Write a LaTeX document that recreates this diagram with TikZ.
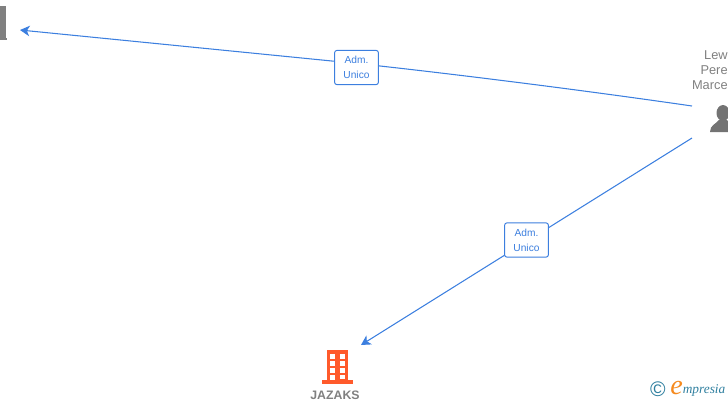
\documentclass[tikz,border=0pt]{standalone}
\usepackage{fontspec}
\setmainfont{Liberation Sans}
\newfontfamily\logofont{Liberation Serif}
\usetikzlibrary{arrows.meta}
\definecolor{linkblue}{HTML}{3C7FDF}
\definecolor{labelgray}{HTML}{808080}
\definecolor{iconorange}{HTML}{FF5A2B}
\definecolor{logoteal}{HTML}{2F7F9F}
\definecolor{logoorange}{HTML}{F58A1F}
\begin{document}
\begin{tikzpicture}
	[
	x = {(0.020000cm, 0.000000cm)},
	y = {(0.000000cm, -0.020000cm)},
	link/.style = {color = linkblue, line width = 0.6pt},
	linkarrow/.style = {link, -{Stealth[length = 5.5pt, width = 6pt, inset = 1.6pt]}},
	rolebox/.style = {draw = linkblue, fill = white, rounded corners = 1.5pt, line width = 0.55pt, minimum width = 25pt, minimum height = 19.6pt, inner sep = 0pt, align = center, text = linkblue, font = \fontsize{5.8}{8.5}\selectfont},
	personlabel/.style = {inner sep = 0pt, anchor = north east, align = right, text = labelgray, font = \fontsize{7.3}{8.5}\selectfont},
	companylabel/.style = {inner sep = 0pt, text = labelgray, font = \fontsize{7}{8}\selectfont\bfseries},
	icongray/.style = {fill = black!55},
	iconred/.style = {fill = iconorange},
	window/.style = {fill = white}]
	
	\useasboundingbox (0,0) rectangle (728,400);
	
	\coordinate (leftend) at (20,30);
	\coordinate (personup) at (692,106);
	\coordinate (persondown) at (692,138);
	\coordinate (jazaksend) at (361,345);
	
	%% Drawing the links
	
	\draw[linkarrow] (personup) .. controls (540,84) and (400,68) .. (357,63.5) -- (leftend);
	\draw[linkarrow] (persondown) -- (jazaksend);
	
	\node[rolebox] (roleleft) at (356.5,67.5) {Adm.\\Unico};
	\node[rolebox] (roledown) at (526.5,240) {Adm.\\Unico};
	
	%% Drawing the icons
	
	\fill[labelgray] (0,6) rectangle (5.5,40);
	\fill[labelgray] (0,37.5) rectangle (7,40);
	
	\fill[icongray] (723,113) circle (6.5 and 8);
	\fill[icongray] (710,132) .. controls (710,125) and (716,124) .. (719,120) -- (727,120) -- (728,121) -- (728,132) -- cycle;
	
	\fill[iconred] (327,350) rectangle (348,381);
	\fill[iconred] (322,380) rectangle (353,384);
	\foreach \rowy in {354,361,368} {
		\fill[window] (330,\rowy) rectangle (335,\rowy+4.5);
		\fill[window] (340,\rowy) rectangle (345,\rowy+4.5);
	}
	\fill[window] (330,375) rectangle (335,380);
	\fill[window] (340,375) rectangle (345,379);
	
	%% Drawing the labels
	
	\node[personlabel] (personname) at (728,50.5) {Lew\\Pere\\Marce};
	\node[companylabel] (jazaks) at (335,395) {JAZAKS};
	
	\node[inner sep = 0pt, text = logoteal, font = \fontsize{12}{12}\selectfont] (logomark) at (658,389) {©};
	\node[inner sep = 0pt, anchor = base west, text = logoorange, font = \logofont\itshape\fontsize{16}{16}\selectfont] (logoe) at (670,394) {e};
	\node[inner sep = 0pt, anchor = base west, text = logoteal, font = \logofont\itshape\fontsize{7.6}{9}\selectfont] (logoname) at (682.5,393) {mpresia};
\end{tikzpicture}
\end{document}
